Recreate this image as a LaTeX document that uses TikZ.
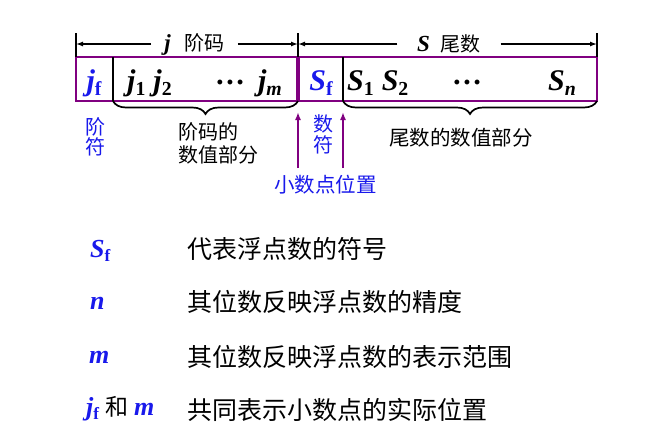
\documentclass[tikz,border=0pt]{standalone}
\usepackage{fontspec}
\setmainfont{Liberation Serif}
\newfontfamily\cjk{Noto Sans CJK SC}
\usetikzlibrary{arrows.meta,decorations.pathreplacing}
\definecolor{pur}{RGB}{128,0,128}
\definecolor{bl}{RGB}{25,25,235}
\newcommand{\Sub}[1]{\raisebox{-0.17em}{\scalebox{0.66}{#1}}}
\begin{document}
\begin{tikzpicture}[x=1pt,y=1pt,
  bm/.style={font=\fontsize{30}{30}\selectfont\bfseries\itshape, inner sep=0pt, anchor=base},
  lm/.style={font=\fontsize{26}{26}\selectfont\bfseries\itshape, text=bl, inner sep=0pt, anchor=base west},
  cn/.style={font=\fontsize{20.5}{20.5}\selectfont\cjk, inner sep=0pt},
  ln/.style={font=\fontsize{25}{25}\selectfont\cjk, inner sep=0pt, anchor=base west},
  toplab/.style={font=\fontsize{20}{20}\selectfont, inner ysep=0pt},
  dimarrow/.style={-{Latex[length=7pt,width=5pt]}, line width=1.3pt},
  tickline/.style={line width=1.7pt},
  parrow/.style={-{Latex[length=8pt,width=6pt]}, line width=2pt, draw=pur},
  brc/.style={decorate, decoration={brace, mirror, amplitude=13pt}, line width=1.7pt},
]
\useasboundingbox (0,0) rectangle (669,-431);
% coordinates
\coordinate (bNW) at (76,-57);
\coordinate (bNE) at (597,-57);
\coordinate (bSE) at (597,-101);
\coordinate (d1t) at (113,-57);
\coordinate (d1b) at (113,-101);
\coordinate (d2t) at (298,-57);
\coordinate (d2b) at (298,-101);
\coordinate (d3t) at (343,-57);
\coordinate (d3b) at (343,-101);
\coordinate (t1) at (76,-33);
\coordinate (t2) at (298,-33);
\coordinate (t3) at (597,-33);
% box
\draw[pur, line width=2pt] (bNW) rectangle (bSE);
\draw[pur, line width=4pt] (d2t) -- (d2b);
\draw[tickline] (d1t) -- (d1b);
\draw[tickline] (d3t) -- (d3b);
\draw[brc] (d1b) -- (d2b);
\draw[brc] (d3b) -- (bSE);
% ticks
\draw[tickline] (t1) -- (bNW);
\draw[tickline] (t2) -- (d2t);
\draw[tickline] (t3) -- (bNE);
% top labels
\node[toplab, inner xsep=13pt] (jl) at (194.5,-44) {{\fontsize{23}{23}\selectfont\bfseries\itshape j}\hspace{14pt}{\cjk 阶码}};
\node[toplab, inner xsep=19.5pt] (sl) at (449,-44) {{\fontsize{23}{23}\selectfont\bfseries\itshape S}\hspace{11pt}{\cjk 尾数}};
\draw[dimarrow] (jl.west) -- (jl.west -| t1);
\draw[dimarrow] (jl.east) -- (jl.east -| t2);
\draw[dimarrow] (sl.west) -- (sl.west -| t2);
\draw[dimarrow] (sl.east) -- (sl.east -| t3);
% box contents
\node[bm, text=bl] (jf) at (94,-90) {j\Sub{\upshape f}};
\node[bm, anchor=base west] (j12) at (127,-90) {j\Sub{\upshape 1}\hspace{8pt}j\Sub{\upshape 2}};
\node[bm, anchor=center] (dots1) at (231,-82) {…};
\node[bm] (jm) at (270,-90) {j\Sub{m}};
\node[bm, text=bl] (sf) at (321,-90) {S\Sub{\upshape f}};
\node[bm, anchor=base west] (s12) at (347,-90) {S\Sub{\upshape 1}\hspace{8pt}S\Sub{\upshape 2}};
\node[bm, anchor=center] (dots2) at (468,-82) {…};
\node[bm] (sn) at (562,-90) {S\Sub{n}};
% labels under box
\node[inner sep=0pt, text=bl, align=center, font=\fontsize{20}{20}\selectfont\cjk] (jfs) at (95,-136.5) {阶\\符};
\node[inner sep=0pt, align=left, anchor=west, font=\fontsize{20}{23.5}\selectfont\cjk] (jvp) at (178,-143.2) {阶码的\\数值部分};
\node[inner sep=0pt, text=bl, align=center, font=\fontsize{20}{21}\selectfont\cjk] (sfs) at (323,-134.5) {数\\符};
\node[cn, anchor=base] (svp) at (461,-145.8) {尾数的数值部分};
\node[cn, anchor=base, text=bl] (dp) at (325.5,-192) {小数点位置};
% arrows to point position
\coordinate (a1s) at (298,-168);
\coordinate (a1t) at (298,-112);
\coordinate (a2s) at (343,-168);
\coordinate (a2t) at (343,-112);
\draw[parrow] (a1s) -- (a1t);
\draw[parrow] (a2s) -- (a2t);
% legend
\node[lm] (l1) at (90,-257) {S\Sub{\upshape f}};
\node[lm] (l2) at (90,-309) {n};
\node[lm] (l3) at (89,-363) {m};
\node[lm] (l4) at (86,-415) {j\Sub{\upshape f}\hspace{6pt}{\fontsize{23}{23}\selectfont\cjk\mdseries\upshape\color{black}和}\hspace{6pt}m};
\node[ln] (e1) at (187,-258) {代表浮点数的符号};
\node[ln] (e2) at (187,-311) {其位数反映浮点数的精度};
\node[ln] (e3) at (187,-366) {其位数反映浮点数的表示范围};
\node[ln] (e4) at (187,-419) {共同表示小数点的实际位置};
\end{tikzpicture}
\end{document}
